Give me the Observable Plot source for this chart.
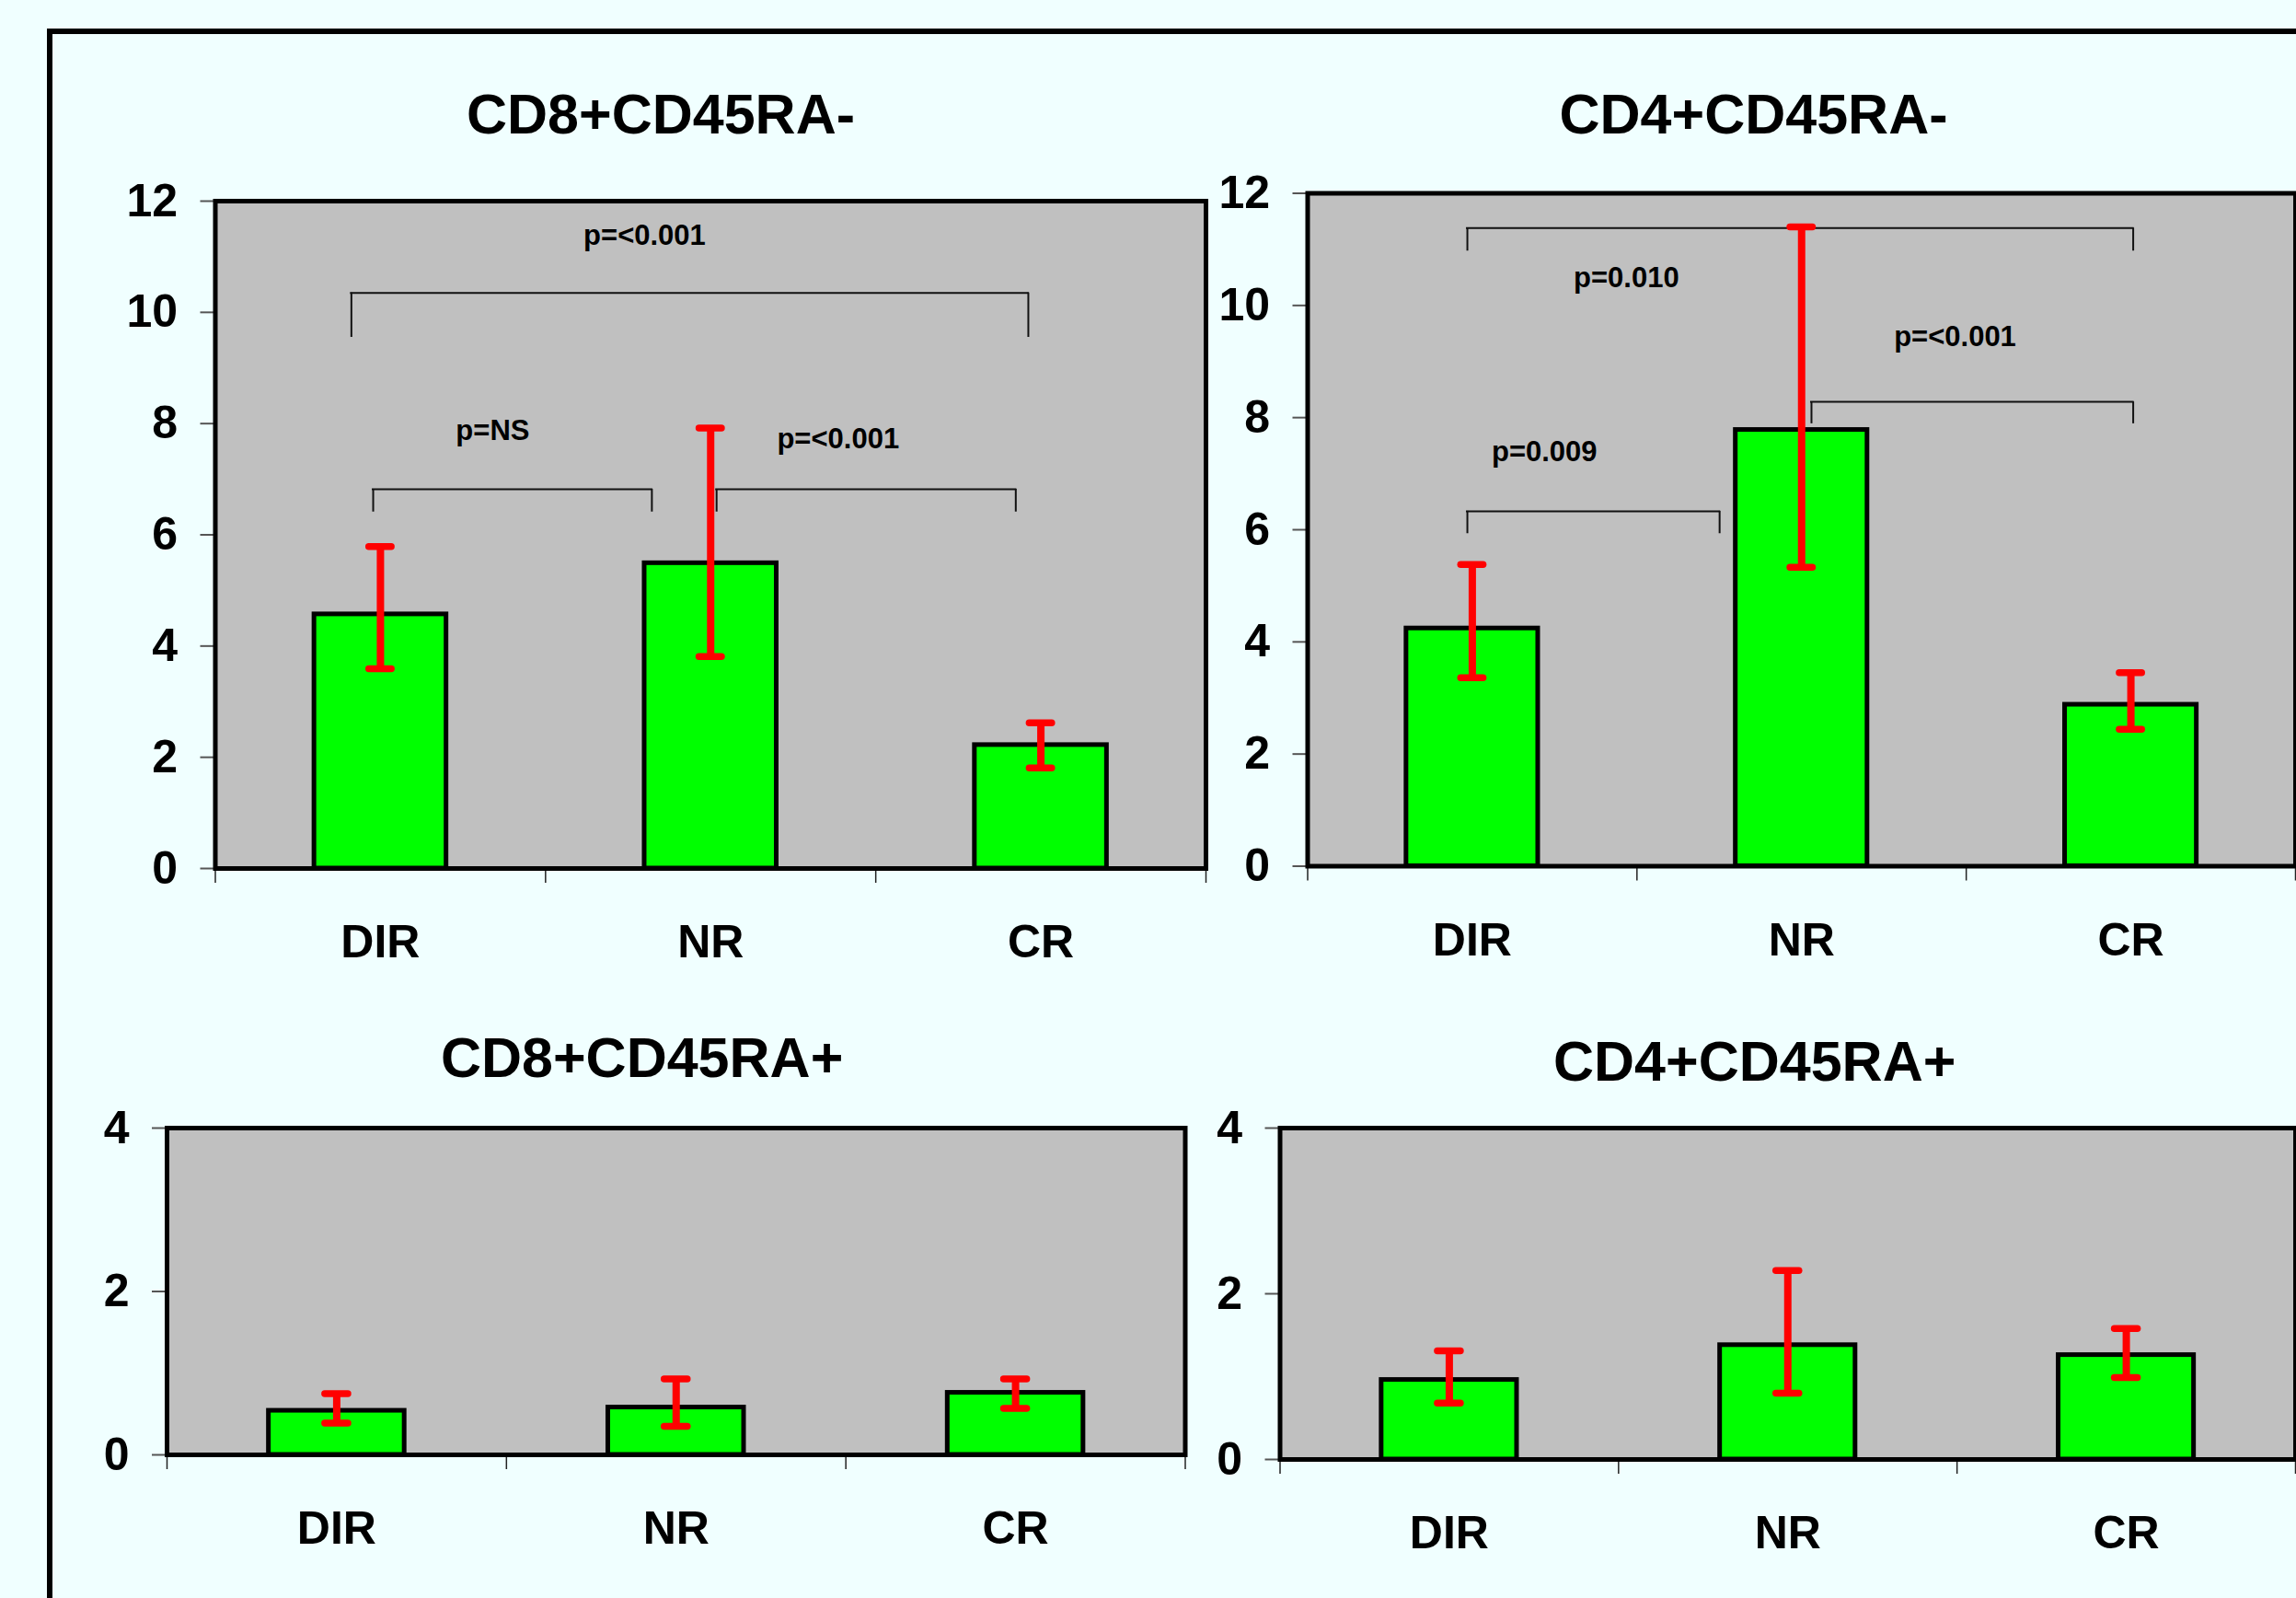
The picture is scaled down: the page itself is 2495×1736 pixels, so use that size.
<!DOCTYPE html>
<html><head><meta charset="utf-8">
<script src="https://cdn.jsdelivr.net/npm/d3@7"></script>
<script src="https://cdn.jsdelivr.net/npm/@observablehq/plot@0.6"></script>
<style>
html,body{margin:0;padding:0;background:#F0FFFF;overflow:hidden;}
#page{position:relative;width:2495px;height:1736px;overflow:hidden;background:#F0FFFF;font-family:"Liberation Sans",Arial,sans-serif;}
#frame{position:absolute;left:51px;top:31px;width:3000px;height:3000px;border:6px solid #000;box-sizing:border-box;}
.title{position:absolute;font-weight:bold;font-size:61px;line-height:1;white-space:nowrap;transform:translateX(-50%);color:#000;}
.panel{position:absolute;}
</style></head><body><div id="page"><div id="frame"></div></div>
<script>
// ---- data ----
const categories = ["DIR", "NR", "CR"];

// CD8+CD45RA-
const cd8NegMean = [4.57, 5.49, 2.22];
const cd8NegLow  = [3.59, 3.81, 1.81];
const cd8NegHigh = [5.79, 7.92, 2.62];
// CD4+CD45RA-
const cd4NegMean = [4.24, 7.78, 2.88];
const cd4NegLow  = [3.36, 5.33, 2.44];
const cd4NegHigh = [5.38, 11.40, 3.45];
// CD8+CD45RA+
const cd8PosMean = [0.54, 0.58, 0.76];
const cd8PosLow  = [0.39, 0.35, 0.57];
const cd8PosHigh = [0.75, 0.93, 0.93];
// CD4+CD45RA+
const cd4PosMean = [0.96, 1.38, 1.26];
const cd4PosLow  = [0.68, 0.80, 0.99];
const cd4PosHigh = [1.31, 2.28, 1.58];

const ticksUpper = [0, 2, 4, 6, 8, 10, 12];
const ticksLower = [0, 2, 4];

// significance brackets (x in category units, y in data units)
const cd8NegBracketX1  = [-0.088, -0.022, 1.018];
const cd8NegBracketX2  = [1.962, 0.822, 1.924];
const cd8NegBracketTop = [10.35, 6.82, 6.82];
const cd8NegBracketLeg = [9.55, 6.41, 6.41];
const cd8NegPText = ["p=<0.001", "p=NS", "p=<0.001"];
const cd8NegPX    = [0.80, 0.34, 1.386];
const cd8NegPY    = [11.22, 7.71, 7.55];

const cd4NegBracketX1  = [-0.015, -0.015, 1.030];
const cd4NegBracketX2  = [2.007, 0.751, 2.007];
const cd4NegBracketTop = [11.38, 6.33, 8.28];
const cd4NegBracketLeg = [10.97, 5.93, 7.89];
const cd4NegPText = ["p=0.010", "p=<0.001", "p=0.009"];
const cd4NegPX    = [0.468, 1.466, 0.219];
const cd4NegPY    = [10.32, 9.28, 7.23];

const FONT = '"Liberation Sans", Arial, sans-serif';
const page = document.getElementById("page");

function addTitle(text, cx, baseline) {
  const d = document.createElement("div");
  d.className = "title";
  d.textContent = text;
  d.style.left = cx + "px";
  d.style.top = (baseline - 0.8465 * 61) + "px";
  page.appendChild(d);
}

function panel(cfg) {
  const rows = categories.map((c, i) => ({cat: c, i, mean: cfg.mean[i], lo: cfg.lo[i], hi: cfg.hi[i]}));
  const brackets = (cfg.bx1 || []).map((x1, k) => ({x1, x2: cfg.bx2[k], top: cfg.btop[k], leg: cfg.bleg[k]}));
  const plabels = (cfg.ptext || []).map((t, k) => ({t, x: cfg.px[k], y: cfg.py[k]}));
  const [L, T, R, B] = cfg.box;
  const sx = Math.floor(L - 210), sy = Math.floor(T - 20);
  const ml = L - sx, mt = T - sy, mr = 12, mb = 115;
  const width = (R - L) + ml + mr, height = (B - T) + mt + mb;
  const chart = Plot.plot({
    width, height, marginLeft: ml, marginTop: mt, marginRight: mr, marginBottom: mb,
    style: {background: "transparent", color: "black", fontFamily: FONT, overflow: "visible", maxWidth: "none"},
    x: {type: "linear", domain: [-0.5, 2.5], label: null},
    y: {domain: [0, cfg.yMax], label: null},
    marks: [
      Plot.frame({fill: "#C0C0C0", stroke: "none"}),
      Plot.axisY({ticks: cfg.ticks, tickSize: 16, tickPadding: 25, tickFormat: d => String(d), fontSize: 50, fontWeight: "bold", fill: "black", stroke: "#555", strokeWidth: 2, label: null}),
      Plot.axisX({ticks: [-0.5, 0.5, 1.5, 2.5], tickSize: 16, tickFormat: () => "", stroke: "#222", strokeWidth: 1.5, label: null}),
      Plot.axisX({ticks: [0, 1, 2], tickSize: 0, tickPadding: 61, tickFormat: i => categories[i], fontSize: 50, fontWeight: "bold", fill: "black", label: null}),
      Plot.rectY(rows, {x1: d => d.i - 0.2, x2: d => d.i + 0.2, y1: 0, y2: "mean", fill: "#00FF00", stroke: "black", strokeWidth: 5}),
      Plot.ruleY(brackets, {x1: "x1", x2: "x2", y: "top", stroke: "#111", strokeWidth: 2, strokeLinecap: "square"}),
      Plot.ruleX(brackets, {x: "x1", y1: "leg", y2: "top", stroke: "#111", strokeWidth: 2}),
      Plot.ruleX(brackets, {x: "x2", y1: "leg", y2: "top", stroke: "#111", strokeWidth: 2}),
      Plot.text(plabels, {x: "x", y: "y", text: "t", fontSize: 31, fontWeight: "bold", fill: "black", lineAnchor: "bottom", textAnchor: "middle"}),
      Plot.ruleX(rows, {x: "i", y1: "lo", y2: "hi", stroke: "#FF0000", strokeWidth: 8}),
      Plot.ruleY(rows, {y: "hi", x1: d => d.i - 0.034, x2: d => d.i + 0.034, stroke: "#FF0000", strokeWidth: 7.5, strokeLinecap: "round"}),
      Plot.ruleY(rows, {y: "lo", x1: d => d.i - 0.034, x2: d => d.i + 0.034, stroke: "#FF0000", strokeWidth: 7.5, strokeLinecap: "round"}),
      Plot.frame({stroke: "black", strokeWidth: 5, fill: "none"})
    ]
  });
  const wrap = document.createElement("div");
  wrap.className = "panel";
  wrap.style.left = sx + "px";
  wrap.style.top = sy + "px";
  wrap.appendChild(chart);
  page.appendChild(wrap);
  addTitle(cfg.title, cfg.titleX, cfg.titleY);
}

panel({title: "CD8+CD45RA-", mean: cd8NegMean, lo: cd8NegLow, hi: cd8NegHigh, yMax: 12, ticks: ticksUpper,
  bx1: cd8NegBracketX1, bx2: cd8NegBracketX2, btop: cd8NegBracketTop, bleg: cd8NegBracketLeg,
  ptext: cd8NegPText, px: cd8NegPX, py: cd8NegPY,
  box: [233.5, 218, 1310, 943], titleX: 718, titleY: 146});
panel({title: "CD4+CD45RA-", mean: cd4NegMean, lo: cd4NegLow, hi: cd4NegHigh, yMax: 12, ticks: ticksUpper,
  bx1: cd4NegBracketX1, bx2: cd4NegBracketX2, btop: cd4NegBracketTop, bleg: cd4NegBracketLeg,
  ptext: cd4NegPText, px: cd4NegPX, py: cd4NegPY,
  box: [1420.5, 209.5, 2494, 940.5], titleX: 1905.5, titleY: 146});
panel({title: "CD8+CD45RA+", mean: cd8PosMean, lo: cd8PosLow, hi: cd8PosHigh, yMax: 4, ticks: ticksLower,
  box: [181, 1225, 1287.5, 1580], titleX: 697.6, titleY: 1171});
panel({title: "CD4+CD45RA+", mean: cd4PosMean, lo: cd4PosLow, hi: cd4PosHigh, yMax: 4, ticks: ticksLower,
  box: [1390.5, 1225, 2494, 1585], titleX: 1906.7, titleY: 1175});
</script></body></html>
